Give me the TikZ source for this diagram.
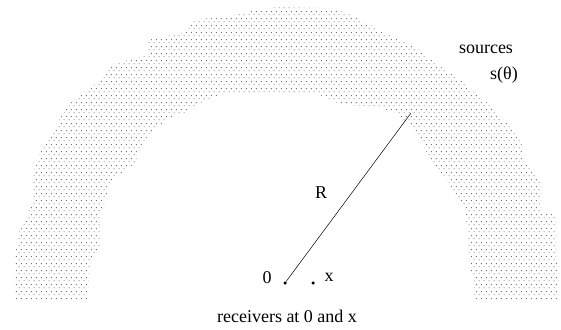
\documentclass[tikz,border=0pt]{standalone}
\usepackage{fontspec}
\setmainfont{Liberation Serif}
\usetikzlibrary{patterns.meta}

% dotted fill of the source band
\tikzdeclarepattern{
	name=srcdots,
	type=colored,
	bottom left={(0pt,0pt)},
	top right={(4.6pt,6.6pt)},
	tile size={(4.6pt,6.6pt)},
	code={
		\fill[black!55] (0.8pt,0.8pt) rectangle (1.8pt,1.8pt);
		\fill[black!55] (3.1pt,4.1pt) rectangle (4.1pt,5.1pt);
	}
}

\begin{document}
\begin{tikzpicture}[
			x=1pt, y=-1pt,
			font=\fontsize{18}{21}\selectfont,
			recv/.style={
				circle,
				fill=black,
				minimum size=3.5pt,
				inner sep=0pt
			},
			lbl/.style={
				inner sep=1pt
			}
			]

			\useasboundingbox (0,0) rectangle (561,329);

			% Band of sources
			\fill[pattern=srcdots] (15,300) -- (15,258) -- (18,233) -- (25,222)
			-- (32,202) -- (33,172) -- (37,163) -- (40,153) -- (50,137) -- (60,118)
			-- (73,100) -- (103,78) -- (110,65) -- (147,55) -- (148,40) -- (185,32)
			-- (189,28) -- (194,20) -- (247,13) -- (250,10) -- (277,7) -- (327,8)
			-- (347,13) -- (360,20) -- (376,28) -- (394,37) -- (417,48) -- (441,67)
			-- (461,80) -- (484,100) -- (504,120) -- (521,140) -- (524,163)
			-- (529,165) -- (541,182) -- (541,212) -- (556,215) -- (556,258)
			-- (559,262) -- (559,300)
			-- (474,300) -- (474,278) -- (471,272) -- (467,232) -- (466,212)
			-- (462,203) -- (454,192) -- (446,178) -- (434,165) -- (420,140)
			-- (407,123) -- (397,113) -- (376,107) -- (350,105) -- (334,102)
			-- (320,95) -- (297,93) -- (270,92) -- (220,95) -- (200,103)
			-- (185,113) -- (170,118) -- (150,133) -- (140,147) -- (135,163)
			-- (110,182) -- (105,202) -- (100,212) -- (100,245) -- (95,255)
			-- (90,265) -- (88,295) -- (88,300) -- cycle;

			% Receivers
			\node[recv] (o) at (285,283) {};
			\node[recv] (xr) at (313,283) {};
			\node[lbl] (lo) at (267,278) {0};
			\node[lbl] (lx) at (329,277) {x};

			% Radius
			\coordinate (src) at (411,113);
			\draw[line width=0.5pt] (o) -- (src);
			\node[lbl] (lr) at (321,193) {R};

			% Labels
			\node[lbl] (lsrc) at (486,49) {sources};
			\node[lbl] (ls) at (504,75) {s(θ)};
			\node[lbl] (lrecv) at (287,316) {receivers at 0 and x};

		\end{tikzpicture}
\end{document}
